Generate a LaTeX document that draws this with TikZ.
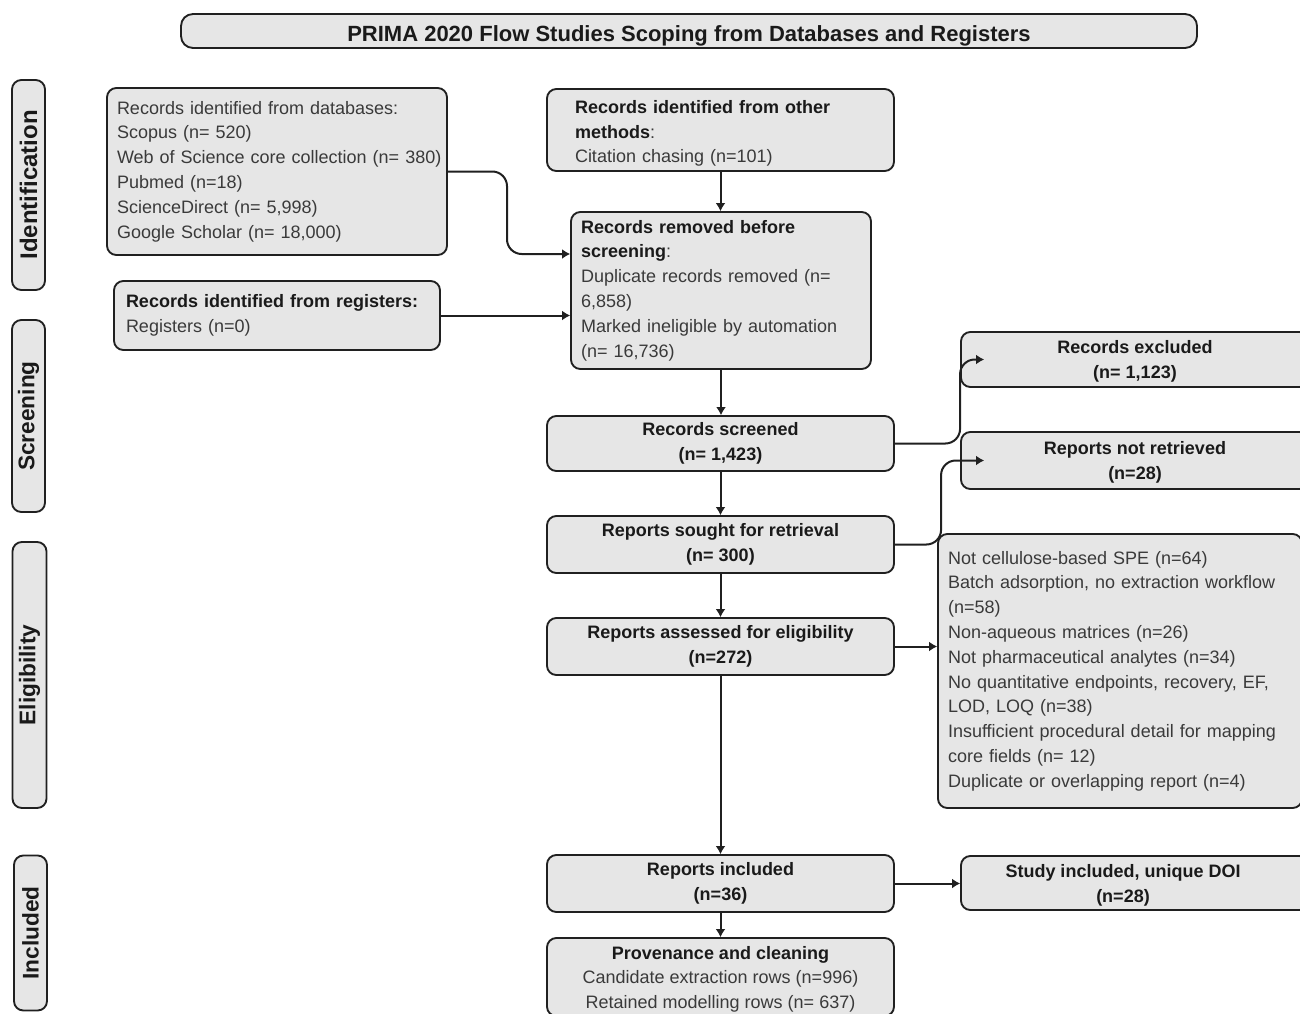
\documentclass[tikz,border=0pt]{standalone}
\usepackage{fontspec}
\setmainfont{Liberation Sans}
\usetikzlibrary{arrows.meta}
\definecolor{boxfill}{HTML}{E6E6E6}
\definecolor{boxline}{HTML}{202020}
\definecolor{txt}{HTML}{3A3A3A}
\definecolor{btxt}{HTML}{1A1A1A}
\def\px{0.75pt}
\newcommand\hdr[1]{{\color{btxt}\bfseries #1}}
\begin{document}
\begin{tikzpicture}[x=0.75pt,y=-0.75pt,
  box/.style={draw=boxline, fill=boxfill, line width=1.4pt, rounded corners=7pt,
    font=\fontsize{13.5}{18.6}\selectfont, text=txt, inner ysep=0pt},
  lbox/.style={box, align=left},
  cbox/.style={box, align=center, inner xsep=0pt, minimum width=347*\px},
  side/.style={box, rotate=90, font=\fontsize{17}{19}\selectfont\bfseries, text=btxt, inner sep=0pt},
  flow/.style={draw=boxline, line width=1.5pt, -{Latex[length=6pt,width=7.5pt]}},
  rflow/.style={flow, rounded corners=11pt}]
\useasboundingbox (0,0) rectangle (1300,1014);
\fill[white] (0,0) rectangle (1300,1014);

% title
\node[box, rounded corners=9pt, minimum width=1016*\px, minimum height=34*\px,
  font=\fontsize{16.5}{19}\selectfont\bfseries, text=btxt, text height=19pt, text depth=3.5pt] (title) at (689,31)
  {PRIMA 2020 Flow Studies Scoping from Databases and Registers};

% side labels
\node[side, minimum width=210*\px, minimum height=33*\px, font=\fontsize{18}{20}\selectfont\bfseries] (sid) at (28.5,185) {Identification};
\node[side, minimum width=192*\px, minimum height=33*\px] (ssc) at (28.5,416) {Screening};
\node[side, minimum width=266*\px, minimum height=34*\px] (sel) at (29.5,675) {Eligibility};
\node[side, minimum width=155*\px, minimum height=33*\px] (sin) at (30.5,933) {Included};

% identification
\node[lbox, text width=320*\px, inner xsep=10*\px, minimum height=167*\px] (db) at (277,171.5)
  {Records identified from databases:\\
   Scopus (n= 520)\\
   \makebox[0pt][l]{Web of Science core collection (n= 380)}\\
   Pubmed (n=18)\\
   ScienceDirect (n= 5,998)\\
   Google Scholar (n= 18,000)};
\node[lbox, text width=302*\px, inner xsep=12*\px, minimum height=69*\px] (reg) at (277,315.5)
  {\hdr{Records identified from registers:}\\
   Registers (n=0)};
\node[lbox, text width=291*\px, inner xsep=28*\px, minimum height=82*\px] (other) at (720.5,130)
  {\rule{0pt}{15pt}\hdr{Records identified from other}\\
   \hdr{methods}:\\
   Citation chasing (n=101)};
\node[lbox, text width=280*\px, inner xsep=10*\px, minimum height=157*\px] (removed) at (721,290.5)
  {\hdr{Records removed before}\\
   \hdr{screening}:\\
   Duplicate records removed (n=\\
   6,858)\\
   Marked ineligible by automation\\
   (n= 16,736)};

% screening
\node[cbox, minimum height=55*\px] (screened) at (720.5,443.5)
  {\hdr{Records screened}\\ \hdr{(n= 1,423)}};
\node[cbox, minimum width=348*\px, minimum height=55*\px] (excluded) at (1135,359.5)
  {\rule{0pt}{12pt}\hdr{Records excluded}\\ \hdr{(n= 1,123)}};
\node[cbox, minimum height=57*\px] (sought) at (720.5,544.5)
  {\hdr{Reports sought for retrieval}\\ \hdr{(n= 300)}};
\node[cbox, minimum width=348*\px, minimum height=57*\px] (notret) at (1135,460.5)
  {\rule{0pt}{12pt}\hdr{Reports not retrieved}\\ \hdr{(n=28)}};

% eligibility
\node[cbox, minimum height=57*\px] (assessed) at (720.5,646.5)
  {\hdr{Reports assessed for eligibility}\\ \hdr{(n=272)}};
\node[lbox, text width=344*\px, inner xsep=10*\px, minimum height=274*\px] (reasons) at (1120,671)
  {Not cellulose-based SPE (n=64)\\
   Batch adsorption, no extraction workflow\\
   (n=58)\\
   Non-aqueous matrices (n=26)\\
   Not pharmaceutical analytes (n=34)\\
   No quantitative endpoints, recovery, EF,\\
   LOD, LOQ (n=38)\\
   Insufficient procedural detail for mapping\\
   core fields (n= 12)\\
   Duplicate or overlapping report (n=4)};

% included
\node[cbox, minimum height=57*\px] (included) at (720.5,883.5)
  {\hdr{Reports included}\\ \hdr{(n=36)}};
\node[cbox, minimum width=348*\px, minimum height=54*\px] (study) at (1135,883)
  {\rule{0pt}{13pt}\hdr{Study included, unique DOI}\hspace*{18pt}\\ \hdr{(n=28)}\hspace*{18pt}};
\node[cbox, minimum height=78*\px] (prov) at (720.5,977)
  {\rule{0pt}{13pt}\hdr{Provenance and cleaning}\\ Candidate extraction rows (n=996)\\ Retained modelling rows (n= 637)};

% connectors
\coordinate (c1) at (507,254);
\draw[rflow] (db.east) -| (c1) -- (c1 -| removed.west);
\draw[flow] (reg.east) -- (reg.east -| removed.west);
\draw[flow] (other.south) -- (other.south |- removed.north);
\draw[flow] (removed.south) -- (removed.south |- screened.north);
\draw[rflow] (screened.east) -| (excluded.west) -- ++(24,0);
\path (notret.west) ++(-19,0) coordinate (c3);
\draw[rflow] (sought.east) -| (c3) -- ++(43,0);
\draw[flow] (screened.south) -- (sought.north);
\draw[flow] (sought.south) -- (assessed.north);
\draw[flow] (assessed.east) -- (assessed.east -| reasons.west);
\draw[flow] (assessed.south) -- (included.north);
\draw[flow] (included.east) -- (included.east -| study.west);
\draw[flow] (included.south) -- (prov.north);
\end{tikzpicture}
\end{document}
